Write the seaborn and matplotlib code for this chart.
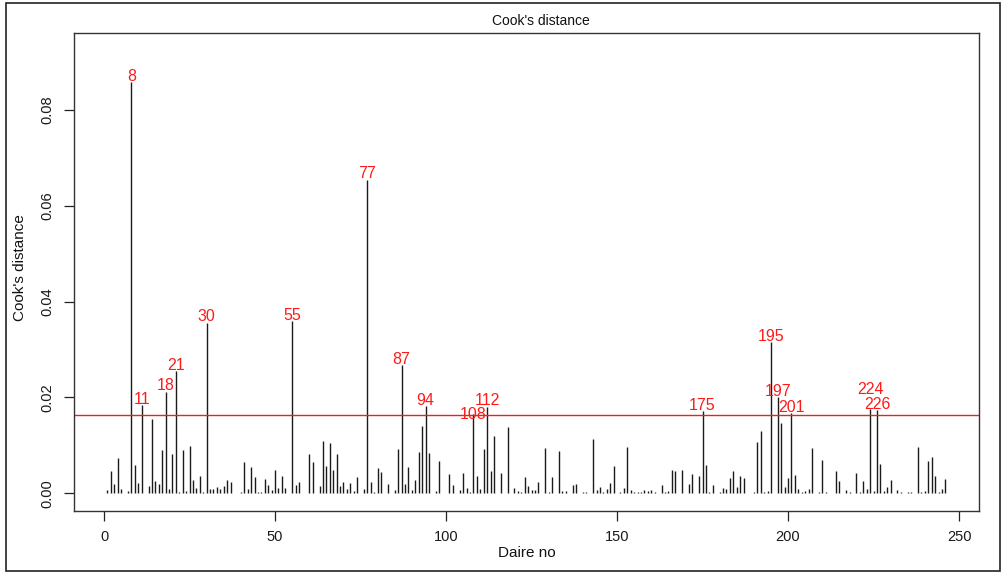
import numpy as np
import pandas as pd
import seaborn as sns
from matplotlib import pyplot as plt
from matplotlib.patches import Rectangle

cooks_d = [
    0.0007, 0.0047, 0.0020, 0.0073, 0.0008, 0.0001, 0.0004, 0.0859, 0.0059, 0.0022,
    0.0184, 0.0001, 0.0015, 0.0155, 0.0025, 0.0020, 0.0090, 0.0212, 0.0009, 0.0082,
    0.0255, 0.0002, 0.0091, 0.0004, 0.0098, 0.0027, 0.0010, 0.0035, 0.0002, 0.0356,
    0.0009, 0.0009, 0.0013, 0.0008, 0.0015, 0.0027, 0.0024, 0.0001, 0.0001, 0.0002,
    0.0066, 0.0009, 0.0054, 0.0033, 0.0002, 0.0002, 0.0029, 0.0017, 0.0006, 0.0049,
    0.0010, 0.0035, 0.0010, 0.0001, 0.0360, 0.0018, 0.0024, 0.0001, 0.0001, 0.0083,
    0.0065, 0.0001, 0.0016, 0.0110, 0.0056, 0.0105, 0.0049, 0.0081, 0.0015, 0.0024,
    0.0009, 0.0022, 0.0004, 0.0033, 0.0001, 0.0009, 0.0655, 0.0024, 0.0002, 0.0053,
    0.0045, 0.0001, 0.0020, 0.0001, 0.0006, 0.0093, 0.0268, 0.0020, 0.0054, 0.0006,
    0.0027, 0.0086, 0.0141, 0.0182, 0.0084, 0.0001, 0.0004, 0.0068, 0.0001, 0.0001,
    0.0040, 0.0018, 0.0001, 0.0006, 0.0042, 0.0010, 0.0002, 0.0165, 0.0035, 0.0008,
    0.0093, 0.0181, 0.0046, 0.0119, 0.0001, 0.0042, 0.0001, 0.0138, 0.0001, 0.0010,
    0.0004, 0.0002, 0.0033, 0.0016, 0.0006, 0.0006, 0.0024, 0.0001, 0.0095, 0.0002,
    0.0033, 0.0001, 0.0088, 0.0004, 0.0004, 0.0001, 0.0018, 0.0020, 0.0001, 0.0002,
    0.0002, 0.0001, 0.0114, 0.0007, 0.0013, 0.0002, 0.0009, 0.0022, 0.0056, 0.0001,
    0.0002, 0.0010, 0.0097, 0.0007, 0.0002, 0.0002, 0.0002, 0.0007, 0.0004, 0.0007,
    0.0002, 0.0001, 0.0018, 0.0002, 0.0004, 0.0049, 0.0046, 0.0001, 0.0049, 0.0001,
    0.0020, 0.0040, 0.0001, 0.0036, 0.0171, 0.0059, 0.0002, 0.0018, 0.0001, 0.0002,
    0.0010, 0.0009, 0.0031, 0.0047, 0.0013, 0.0035, 0.0031, 0.0001, 0.0001, 0.0002,
    0.0107, 0.0130, 0.0002, 0.0004, 0.0316, 0.0001, 0.0201, 0.0146, 0.0013, 0.0031,
    0.0167, 0.0038, 0.0008, 0.0002, 0.0004, 0.0009, 0.0095, 0.0001, 0.0002, 0.0070,
    0.0002, 0.0001, 0.0001, 0.0047, 0.0026, 0.0001, 0.0006, 0.0002, 0.0001, 0.0042,
    0.0002, 0.0026, 0.0008, 0.0175, 0.0004, 0.0173, 0.0061, 0.0004, 0.0013, 0.0027,
    0.0001, 0.0006, 0.0002, 0.0001, 0.0002, 0.0002, 0.0001, 0.0097, 0.0002, 0.0004,
    0.0068, 0.0075, 0.0035, 0.0002, 0.0009, 0.0029,
]
x_ticks = [0, 50, 100, 150, 200, 250]
y_ticks = [0.00, 0.02, 0.04, 0.06, 0.08]

df = pd.DataFrame({'daire': np.arange(1, len(cooks_d) + 1), 'cd': cooks_d})
cutoff = 4 / len(df)
flagged = df[df['cd'] > cutoff]
# nudges (points) so crowded labels don't sit on top of each other
nudge = {108: -4.5, 224: 10}

sns.set_style('white')
plt.rcParams['font.family'] = ['Liberation Sans', 'DejaVu Sans']

fig = plt.figure(figsize=(10.05, 5.74), dpi=100)
ax = fig.add_axes([0.0736, 0.1098, 0.9004, 0.8327])

ax.vlines(df['daire'], 0, df['cd'], color='#1a1a1a', linewidth=1.0)
ax.axhline(cutoff, color='#e8231f', linewidth=1.0)
for _, r in flagged.iterrows():
    k = int(r['daire'])
    ax.annotate(str(k), (r['daire'], r['cd']), xytext=(0, -1.2 + nudge.get(k, 0)),
                textcoords='offset points', ha='center', va='bottom',
                color='#ff1a1a', fontsize=11.5)

ax.set_xlim(-8.8, 255.8)
ax.set_ylim(-0.0037, 0.0961)
ax.set_xticks(x_ticks)
ax.set_yticks(y_ticks)
ax.set_xticklabels([str(t) for t in x_ticks])
ax.set_yticklabels([f'{t:.2f}' for t in y_ticks], rotation=90, va='center')
ax.tick_params(axis='both', direction='out', length=7, width=0.9,
               color='#222222', labelsize=10.5, labelcolor='#1a1a1a',
               bottom=True, left=True)
ax.tick_params(axis='x', pad=7)
ax.tick_params(axis='y', pad=7)
for s in ax.spines.values():
    s.set_visible(True)
    s.set_color('#333333')
    s.set_linewidth(1.0)

ax.set_xlabel('Daire no', fontsize=11, color='#111111')
ax.set_ylabel("Cook's distance", fontsize=11, color='#111111')
ax.xaxis.set_label_coords(0.5, -0.0736)
ax.yaxis.set_label_coords(-0.052, 0.51)
fig.text(0.538, 1 - 21 / 574, "Cook's distance", ha='center', va='center',
         fontsize=10, color='#111111')

fig.patches.append(Rectangle((6 / 1005, 3 / 574), 994 / 1005, 568 / 574,
                             transform=fig.transFigure, fill=False,
                             edgecolor='#222222', linewidth=1.2))

fig.savefig('out.png', dpi=100)
